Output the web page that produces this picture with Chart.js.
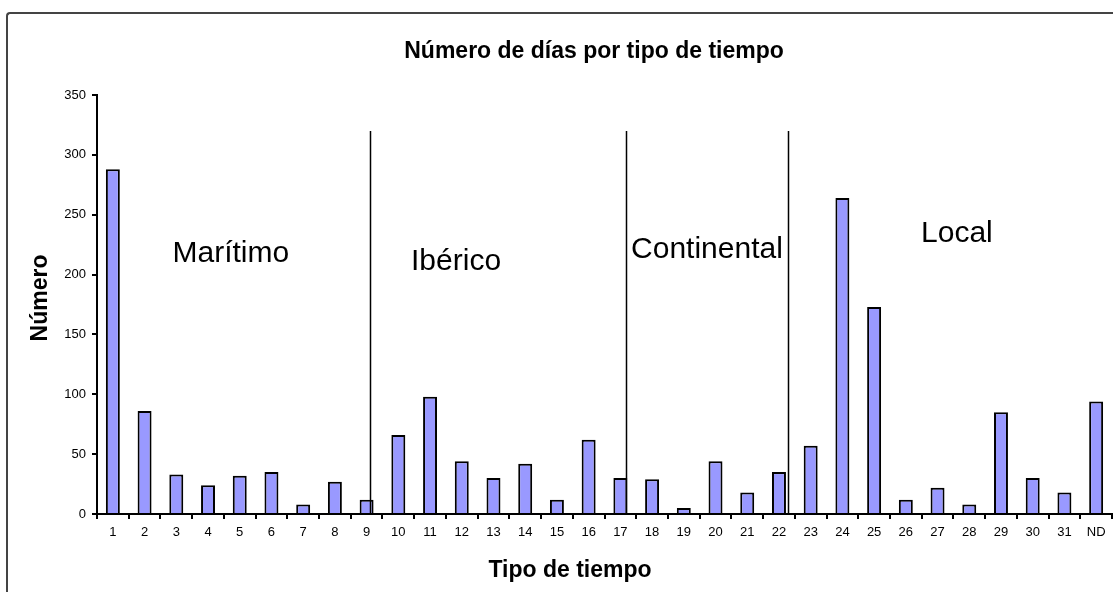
<!DOCTYPE html>
<html>
<head>
<meta charset="utf-8">
<title>Número de días por tipo de tiempo</title>
<script src="https://cdn.jsdelivr.net/npm/chart.js@4.4.1/dist/chart.umd.min.js"></script>
<style>
  html, body { margin: 0; padding: 0; background: #fff; overflow: hidden; }
  #wrap { position: relative; width: 1113px; height: 592px; overflow: hidden; }
  #frame {
    position: absolute; left: 6px; top: 12px; width: 1200px; height: 700px;
    border-left: 2px solid #444; border-top: 2px solid #444;
    border-top-left-radius: 4px;
  }
  #chart { position: absolute; left: 0; top: 0; }
</style>
</head>
<body>
<div id="wrap">
  <div id="frame"></div>
  <canvas id="chart" width="1113" height="592"></canvas>
</div>
<script>
// weather types on the x axis
const categories = ["1", "2", "3", "4", "5", "6", "7", "8", "9", "10", "11", "12", "13", "14", "15", "16",
  "17", "18", "19", "20", "21", "22", "23", "24", "25", "26", "27", "28", "29", "30", "31", "ND"];
// number of days for each type
const dayCounts = [288, 86, 33, 24, 32, 35, 8, 27, 12, 66, 98, 44, 30, 42, 12, 62,
  30, 29, 5, 44, 18, 35, 57, 264, 173, 12, 22, 8, 85, 30, 18, 94];
// y axis ticks
const yTicks = [0, 50, 100, 150, 200, 250, 300, 350];
// air mass groups
const groupNames = ["Marítimo", "Ibérico", "Continental", "Local"];

const FONT = "'Liberation Sans', Arial, sans-serif";

// where the group names and the separating lines go (category index / value units)
const groupLayout = {
  labelAt: [[3.72, 217], [10.82, 211], [18.73, 221], [26.61, 234]],
  dividers: [8.11, 16.18, 21.3],
  dividerTop: 320
};

const groupsPlugin = {
  id: "groups",
  afterDatasetsDraw(chart) {
    const ctx = chart.ctx;
    const x = chart.scales.x, y = chart.scales.y;
    ctx.save();
    ctx.strokeStyle = "#000";
    ctx.lineWidth = 1.5;
    groupLayout.dividers.forEach(d => {
      const px = Math.round(x.getPixelForValue(d)) + 0.5;
      ctx.beginPath();
      ctx.moveTo(px, y.getPixelForValue(groupLayout.dividerTop));
      ctx.lineTo(px, y.getPixelForValue(0));
      ctx.stroke();
    });
    ctx.fillStyle = "#000";
    ctx.font = "30px " + FONT;
    ctx.textAlign = "center";
    ctx.textBaseline = "middle";
    groupNames.forEach((name, i) => {
      const [cx, cy] = groupLayout.labelAt[i];
      ctx.fillText(name, x.getPixelForValue(cx), y.getPixelForValue(cy));
    });
    ctx.restore();
  },
  afterDraw(chart) {
    // chart title and axis titles
    const ctx = chart.ctx;
    ctx.save();
    ctx.fillStyle = "#000";
    ctx.textAlign = "center";
    ctx.textBaseline = "middle";
    ctx.font = "bold 23px " + FONT;
    ctx.fillText("Número de días por tipo de tiempo", 594, 52);
    ctx.fillText("Tipo de tiempo", 570, 571);
    ctx.translate(41, 298);
    ctx.rotate(-Math.PI / 2);
    ctx.fillText("Número", 0, 0);
    ctx.restore();
  }
};

new Chart(document.getElementById("chart"), {
  type: "bar",
  data: {
    labels: categories,
    datasets: [{
      label: "Número de días",
      data: dayCounts,
      backgroundColor: "#9999ff",
      borderColor: "#000",
      borderWidth: 2,
      borderSkipped: "bottom",
      barPercentage: 0.44,
      categoryPercentage: 1
    }]
  },
  options: {
    responsive: false,
    animation: false,
    layout: { padding: { top: 95, left: 0, right: 1, bottom: 0 } },
    plugins: {
      legend: { display: false },
      title: { display: false },
      tooltip: { enabled: false }
    },
    scales: {
      x: {
        offset: true,
        grid: { offset: true, drawOnChartArea: false, drawTicks: true, tickLength: 5, color: "#000", lineWidth: 2 },
        border: { color: "#000", width: 2 },
        ticks: { color: "#000", font: { family: FONT, size: 13 }, padding: 6, maxRotation: 0, autoSkip: false },
        afterFit(scale) { scale.height = 78; }
      },
      y: {
        min: 0,
        max: yTicks[yTicks.length - 1],
        afterBuildTicks(scale) { scale.ticks = yTicks.map(v => ({ value: v })); },
        grid: { drawOnChartArea: false, drawTicks: true, tickLength: 5, color: "#000", lineWidth: 2 },
        border: { color: "#000", width: 2 },
        ticks: { color: "#000", font: { family: FONT, size: 13 }, padding: 6 },
        afterFit(scale) { scale.width = 97; }
      }
    }
  },
  plugins: [groupsPlugin]
});
</script>
</body>
</html>
